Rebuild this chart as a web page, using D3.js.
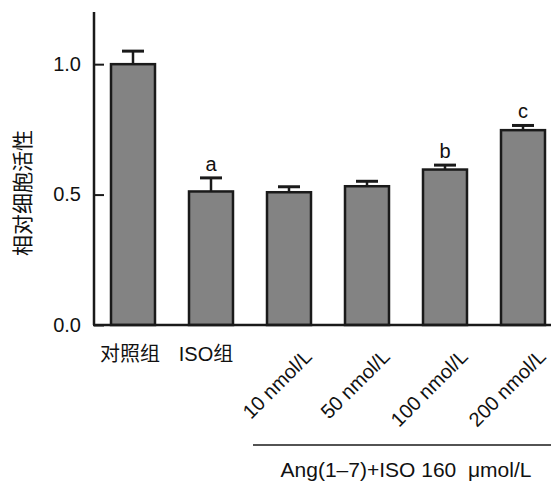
<!DOCTYPE html>
<html>
<head>
<meta charset="utf-8">
<script src="https://cdn.jsdelivr.net/npm/d3@7"></script>
<style>
  body { margin: 0; background: #fff; }
  text { font-family: "Liberation Sans", Arial, "Noto Sans CJK SC", sans-serif; fill: #111; }
</style>
</head>
<body>
<svg id="chart" width="551" height="481"></svg>
<script>
// groups, values
var groups = ["对照组", "ISO组", "10 nmol/L", "50 nmol/L", "100 nmol/L", "200 nmol/L"];
var means = [1.0, 0.512, 0.509, 0.532, 0.596, 0.747];
var errs = [0.05, 0.052, 0.021, 0.019, 0.017, 0.018];
var marks = ["", "a", "", "", "b", "c"];
var yTicks = [0.0, 0.5, 1.0];

var svg = d3.select("#chart");
var mLeft = 94, mRight = 551, mTop = 12, mBottom = 325;

var x = d3.scaleBand().domain(groups).range([94, 562]).paddingInner(0.436).paddingOuter(0.218);
var y = d3.scaleLinear().domain([0, 1.2]).range([mBottom, mTop]);

var data = groups.map(function (g, i) { return {g: g, v: means[i], e: errs[i], m: marks[i], i: i}; });

// bars
svg.selectAll("rect.bar").data(data).enter().append("rect")
  .attr("class", "bar")
  .attr("x", function (d) { return x(d.g); })
  .attr("y", function (d) { return y(d.v); })
  .attr("width", x.bandwidth())
  .attr("height", function (d) { return y(0) - y(d.v); })
  .style("fill", "#838383")
  .style("stroke", "#1a1a1a")
  .style("stroke-width", 2.5);

// error bars
var cx = function (d) { return x(d.g) + x.bandwidth() / 2; };
svg.selectAll("line.err").data(data).enter().append("line")
  .attr("x1", cx).attr("x2", cx)
  .attr("y1", function (d) { return y(d.v); })
  .attr("y2", function (d) { return y(d.v + d.e); })
  .style("stroke", "#1a1a1a").style("stroke-width", 2.5);
svg.selectAll("line.cap").data(data).enter().append("line")
  .attr("x1", function (d) { return cx(d) - 11; })
  .attr("x2", function (d) { return cx(d) + 11; })
  .attr("y1", function (d) { return y(d.v + d.e); })
  .attr("y2", function (d) { return y(d.v + d.e); })
  .style("stroke", "#1a1a1a").style("stroke-width", 3);

// significance letters
svg.selectAll("text.mark").data(data.filter(function (d) { return d.m; })).enter().append("text")
  .attr("x", cx)
  .attr("y", function (d) { return y(d.v + d.e) - 7; })
  .attr("text-anchor", "middle")
  .style("font-size", "20px")
  .text(function (d) { return d.m; });

// axes
var yAxis = d3.axisLeft(y).tickValues(yTicks).tickFormat(d3.format(".1f")).tickSizeInner(-10).tickSizeOuter(0).tickPadding(13);
var gy = svg.append("g").attr("transform", "translate(" + mLeft + ",0)").call(yAxis);
gy.select(".domain").attr("d", "M0," + mTop + "V" + mBottom).style("stroke", "#1a1a1a").style("stroke-width", 2.5);
gy.selectAll(".tick line").style("stroke", "#1a1a1a").style("stroke-width", 2);
gy.selectAll(".tick text").style("font-size", "20px").attr("fill", "#111").attr("font-family", null);

svg.append("line")
  .attr("x1", mLeft - 1).attr("x2", mRight).attr("y1", mBottom).attr("y2", mBottom)
  .style("stroke", "#1a1a1a").style("stroke-width", 2.5);

// y title
svg.append("text")
  .attr("transform", "translate(30,193) rotate(-90)")
  .attr("text-anchor", "middle")
  .style("font-size", "21px")
  .text("相对细胞活性");

// x labels
svg.selectAll("text.xl").data(data.slice(0, 2)).enter().append("text")
  .attr("x", function (d) { return cx(d) - (d.i === 1 ? 5 : 3); })
  .attr("y", 361)
  .attr("text-anchor", "middle")
  .style("font-size", "20px")
  .text(function (d) { return d.g; });

svg.selectAll("text.xr").data(data.slice(2)).enter().append("text")
  .attr("transform", function (d) { return "translate(" + (cx(d) + 24) + ",358) rotate(-45)"; })
  .attr("text-anchor", "end")
  .style("font-size", "20px")
  .text(function (d) { return d.g; });

svg.append("line")
  .attr("x1", 253).attr("x2", mRight).attr("y1", 445).attr("y2", 445)
  .style("stroke", "#1a1a1a").style("stroke-width", 1.5);

svg.append("text")
  .attr("x", 406).attr("y", 477)
  .attr("text-anchor", "middle")
  .style("font-size", "21px")
  .text("Ang(1–7)+ISO 160\u00a0 μmol/L");
</script>
</body>
</html>
